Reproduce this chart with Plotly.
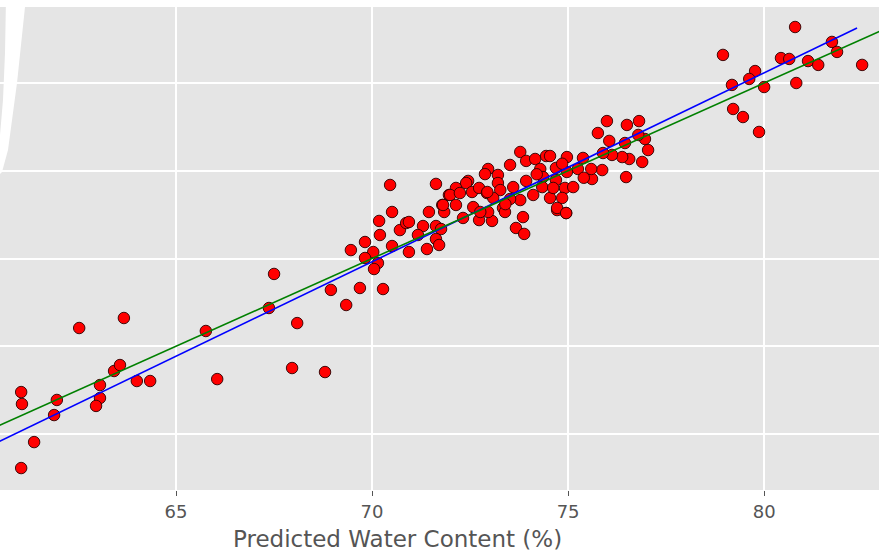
import plotly.graph_objects as go

pred = [61.05, 61.07, 61.38, 61.05, 61.96, 61.89, 62.53, 63.67, 63.06, 63.06,
        62.96, 63.42, 63.57, 64.00, 64.34, 65.76, 66.05, 67.37, 67.50, 68.09,
        67.96, 68.80, 68.95, 69.34, 69.69, 70.28,
        70.46, 71.63, 71.96, 71.79, 71.84, 71.45, 70.51, 70.18, 70.20, 70.71,
        70.87, 70.94, 71.30, 71.17, 71.63, 71.76, 71.63, 71.71, 71.40, 70.94,
        70.51, 69.82, 69.46, 70.03, 69.82, 70.15, 70.05,
        73.78, 73.93, 74.16, 74.44, 74.97, 73.52, 72.96, 72.88, 73.21, 73.21,
        73.27, 72.45, 72.40, 72.14, 71.99, 72.24, 72.55, 72.73, 72.93, 73.60,
        73.93, 74.29, 74.36, 74.69, 74.69, 74.92, 74.34, 74.54, 74.85, 74.11,
        73.78, 73.52, 73.09, 73.34, 71.81, 72.14, 72.58, 72.32, 72.73, 73.06,
        72.96, 73.39, 73.85, 73.67, 73.88, 74.72, 74.95, 72.76, 72.94,
        75.99, 76.50, 76.81, 75.76, 76.05, 76.45, 76.96, 77.04, 76.79, 76.89,
        76.48, 76.56, 76.38, 76.12, 75.89, 75.87, 75.61, 75.59, 75.38, 75.25,
        74.54, 74.97, 75.13, 74.62, 74.72, 74.95, 73.40, 74.20, 74.85, 75.40,
        78.95, 80.79, 80.43, 80.64, 81.12, 81.38, 81.73, 81.86, 82.50, 79.77,
        79.62, 79.18, 80.00, 80.82, 79.21, 79.46, 79.87]
actual = [62.39, 61.71, 59.54, 58.06, 61.94, 61.08, 66.04, 66.61, 62.79, 62.05,
          61.60, 63.59, 63.93, 63.02, 63.02, 65.87, 63.13, 67.18, 69.12, 66.32,
          63.76, 63.53, 68.21, 67.35, 68.32, 68.26,
          74.19, 74.25, 73.62, 73.05, 72.65, 72.65, 72.65, 72.14, 71.34, 71.62,
          72.02, 72.08, 71.85, 71.34, 71.85, 71.68, 71.11, 70.77, 70.54, 70.37,
          70.71, 70.94, 70.48, 70.37, 70.03, 69.74, 69.40,
          76.07, 75.56, 75.67, 75.84, 75.78, 75.33, 75.10, 74.81, 74.76, 74.30,
          73.90, 74.42, 74.30, 74.02, 73.62, 73.73, 73.79, 74.02, 73.73, 74.07,
          74.42, 75.10, 74.64, 75.16, 74.47, 74.02, 74.07, 73.45, 73.45, 73.62,
          73.33, 73.39, 73.45, 72.88, 73.05, 73.05, 72.93, 72.31, 72.19, 72.14,
          72.65, 72.65, 72.36, 71.74, 71.40, 72.76, 72.59, 72.65, 73.79,
          77.83, 77.61, 77.83, 77.15, 76.70, 76.58, 76.81, 76.18, 77.04, 75.50,
          74.64, 75.67, 75.78, 75.90, 76.01, 75.04, 74.53, 75.10, 75.73, 75.10,
          75.84, 74.93, 74.07, 74.02, 72.88, 72.59, 73.10, 74.80, 75.40, 74.60,
          81.60, 83.19, 81.42, 81.37, 81.25, 81.03, 82.34, 81.77, 81.03, 80.68,
          80.23, 79.89, 79.77, 80.00, 78.52, 78.06, 77.21]

# Regression fit line (blue) and identity line (green) end points
fit_x = [60.0, 82.37]
fit_y = [59.05, 83.13]
ident_x = [55.0, 90.0]
ident_y = [55.0, 90.0]

x_ticks = [65, 70, 75, 80]
y_grid = [60, 65, 70, 75, 80]
x_title = "Predicted Water Content (%)"

W, H = 879, 555
T, B = 7, 65
ph = H - T - B


def px(x):
    return x / W


def py(y):
    return (H - B - y) / ph


fig = go.Figure()
fig.add_trace(go.Scatter(x=pred, y=actual, mode="markers",
                         marker=dict(size=11.5, color="#ff0000",
                                     line=dict(color="rgba(45,0,0,0.9)", width=1)),
                         showlegend=False, hoverinfo="skip"))
fig.add_trace(go.Scatter(x=fit_x, y=fit_y, mode="lines",
                         line=dict(color="#0000ff", width=1.6), showlegend=False,
                         hoverinfo="skip"))
fig.add_trace(go.Scatter(x=ident_x, y=ident_y, mode="lines",
                         line=dict(color="#008000", width=1.6), showlegend=False,
                         hoverinfo="skip"))

band = [(6, -2), (28, -2), (25, 7), (17, 83), (8, 150), (2, 172), (0, 174),
        (0, 135), (3, 100), (5, 53)]
path = "M " + " L ".join(f"{px(a):.5f},{py(b):.5f}" for a, b in band) + " Z"

fig.update_layout(
    width=W, height=H,
    margin=dict(l=0, r=0, t=T, b=B),
    paper_bgcolor="white", plot_bgcolor="#E5E5E5",
    font=dict(family="DejaVu Sans", color="#555555"),
    xaxis=dict(range=[60.51, 82.93], tickvals=x_ticks, showgrid=True,
               gridcolor="white", gridwidth=1.5, zeroline=False, showline=False,
               ticks="outside", ticklen=5, tickwidth=1, tickcolor="#555555",
               tickfont=dict(size=18, color="#555555")),
    yaxis=dict(range=[56.81, 84.33], tickvals=y_grid, showticklabels=False,
               showgrid=True, gridcolor="white", gridwidth=1.5, zeroline=False,
               showline=False, ticks=""),
    shapes=[dict(type="path", path=path, xref="paper", yref="paper",
                 fillcolor="white", line=dict(width=0), layer="above")],
    annotations=[dict(text=x_title, xref="paper", yref="paper",
                      x=px(397), y=py(539), xanchor="center", yanchor="middle",
                      borderpad=0,
                      showarrow=False, font=dict(size=23, color="#555555"))],
)

fig.write_html("out.html",
               config={"displayModeBar": False},
               post_script="document.body.style.margin='0';"
                           "document.body.style.padding='0';")
